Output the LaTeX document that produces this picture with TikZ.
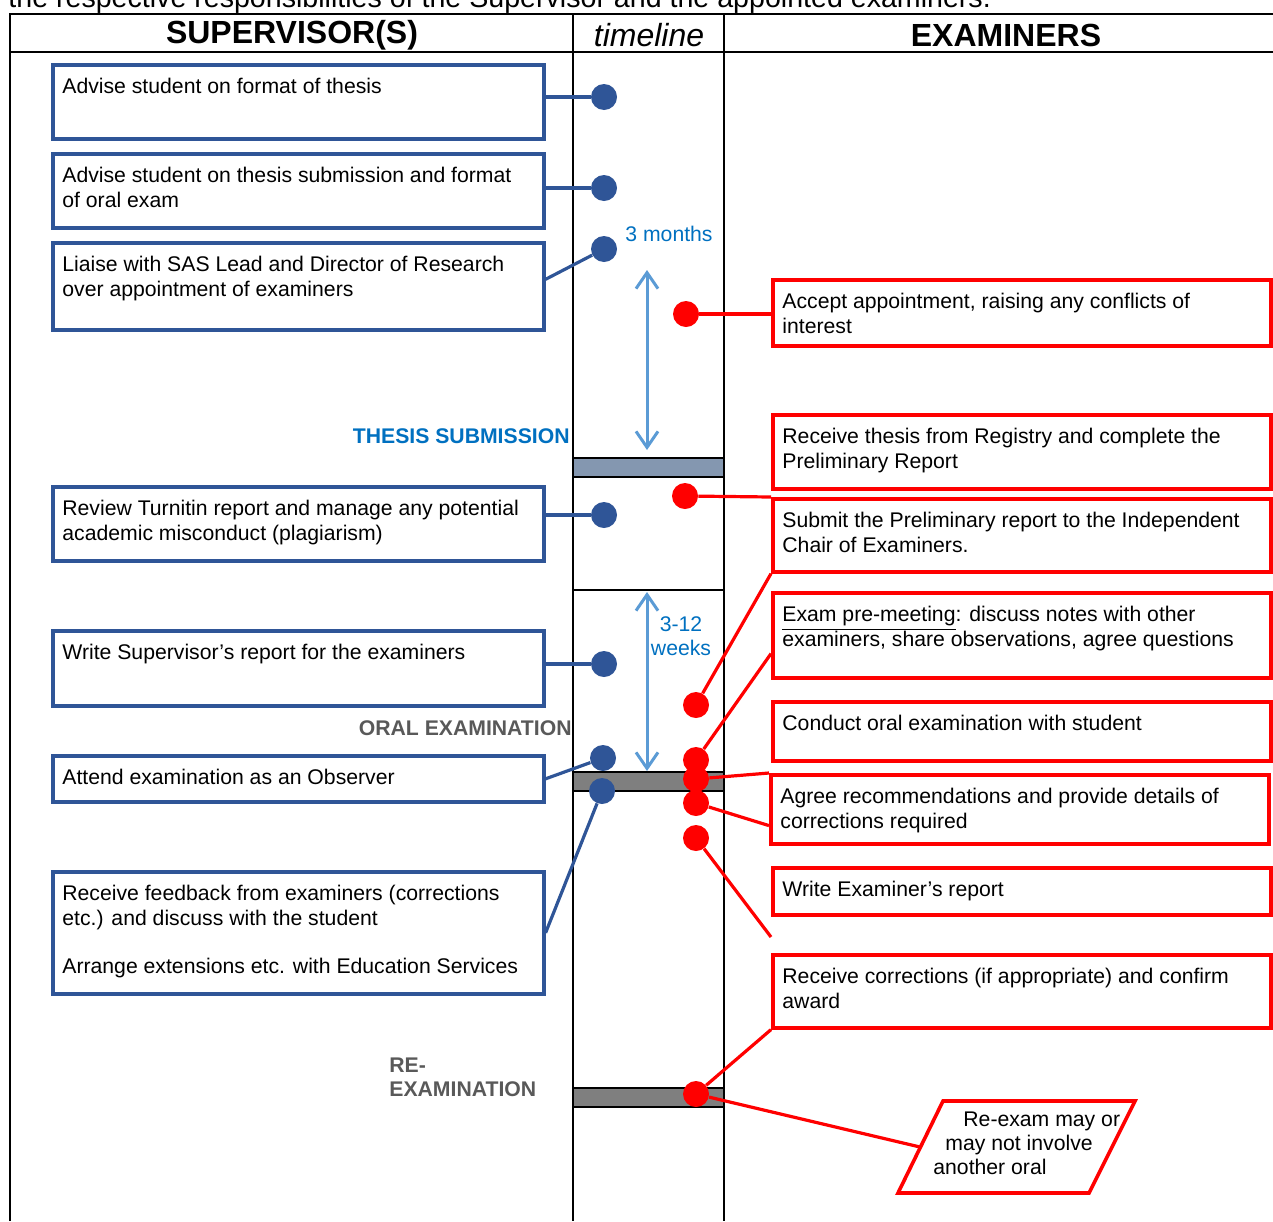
\documentclass[tikz,border=0pt]{standalone}
\usepackage{fontspec}
\setmainfont{Liberation Sans}
\usepackage{xcolor}
\usetikzlibrary{arrows.meta}

\definecolor{supblue}{HTML}{2F5597}
\definecolor{spanblue}{HTML}{5B9BD5}
\definecolor{labelblue}{HTML}{0070C0}
\definecolor{milegray}{HTML}{595959}
\definecolor{barblue}{HTML}{8497B0}
\definecolor{bargray}{HTML}{7F7F7F}
\definecolor{exred}{HTML}{FF0000}

\newcommand{\bodyfont}{\fontsize{10.6pt}{12.2pt}\selectfont}
\newcommand{\headfont}{\fontsize{16pt}{18pt}\selectfont}

\tikzset{
  tableline/.style={draw=black,line width=1pt},
  supbox/.style={draw=supblue,line width=1.8pt,anchor=north west,minimum width=245.5pt,inner sep=0pt},
  exbox/.style={draw=exred,line width=1.8pt,anchor=north west,minimum width=249pt,inner sep=0pt},
  boxtxt/.style={anchor=north west,align=left,inner sep=0pt,font=\bodyfont,xshift=5.5pt,yshift=-7.5pt},
  supdot/.style={circle,fill=supblue,minimum size=13pt,inner sep=0pt},
  exdot/.style={circle,fill=exred,minimum size=13pt,inner sep=0pt},
  supline/.style={draw=supblue,line width=1.6pt},
  exline/.style={draw=exred,line width=1.6pt},
  spanarrow/.style={draw=spanblue,line width=1.5pt,{Straight Barb[length=8pt,width=11pt]}-{Straight Barb[length=8pt,width=11pt]}},
  milestone/.style={font=\bodyfont\bfseries,inner sep=0pt},
}

\begin{document}
\begin{tikzpicture}[x=0.5pt,y=-0.5pt]
\useasboundingbox (0,0) rectangle (1273,1221);

\node[anchor=base west,inner sep=0pt,font=\fontsize{14.3pt}{16pt}\selectfont] (intro) at (8,7) {the respective responsibilities of the Supervisor and the appointed examiners.};

% table
\draw[tableline] (10,1221) -- (10,14) -- (1273,14);
\draw[tableline] (10,52) -- (1273,52);
\draw[tableline] (573,14) -- (573,1221);
\draw[tableline] (724,14) -- (724,1221);
\node[font=\headfont\bfseries] (hsup) at (292,35) {SUPERVISOR(S)};
\node[font=\headfont\itshape] (htime) at (649,35) {timeline};
\node[font=\headfont\bfseries] (hexam) at (1006,35) {EXAMINERS};

% timeline bars
\draw[tableline,fill=barblue] (573,458) rectangle (724,477);
\draw[tableline] (573,590) -- (724,590);
\draw[tableline,fill=bargray] (573,772) rectangle (724,791);
\draw[tableline,fill=bargray] (573,1088) rectangle (724,1107);

\node[milestone,text=labelblue,anchor=east] (thesis) at (570,436) {THESIS SUBMISSION};
\node[milestone,text=milegray,anchor=east] (oral) at (572,728) {ORAL EXAMINATION};
\node[milestone,text=milegray,anchor=west,align=left] (reexam) at (389,1077) {RE-\\EXAMINATION};

\coordinate (m1) at (647,270);
\coordinate (m2) at (647,450);
\draw[spanarrow] (m1) -- (m2);
\node[font=\bodyfont,text=labelblue] (months) at (669,234) {3 months};
\coordinate (w1) at (647,592);
\coordinate (w2) at (647,771);
\draw[spanarrow] (w1) -- (w2);
\node[font=\bodyfont,text=labelblue,align=center] (weeks) at (681,636) {3-12\\weeks};

% supervisor boxes
\node[supbox,minimum height=37pt] (s1) at (51,63) {};
\node[boxtxt] at (s1.north west) {Advise student on format of thesis};
\node[supbox,minimum height=37pt] (s2) at (51,152) {};
\node[boxtxt] at (s2.north west) {Advise student on thesis submission and format\\of oral exam};
\node[supbox,minimum height=43.5pt] (s3) at (51,241) {};
\node[boxtxt] at (s3.north west) {Liaise with SAS Lead and Director of Research\\over appointment of examiners};
\node[supbox,minimum height=37pt] (s4) at (51,485) {};
\node[boxtxt] at (s4.north west) {Review Turnitin report and manage any potential\\academic misconduct (plagiarism)};
\node[supbox,minimum height=37.5pt] (s5) at (51,629) {};
\node[boxtxt] at (s5.north west) {Write Supervisor’s report for the examiners};
\node[supbox,minimum height=23pt] (s6) at (51,754) {};
\node[boxtxt] at (s6.north west) {Attend examination as an Observer};
\node[supbox,minimum height=61pt] (s7) at (51,870) {};
\node[boxtxt] at (s7.north west) {Receive feedback from examiners (corrections\\etc.) and discuss with the student\\[12.2pt]Arrange extensions etc. with Education Services};

% examiner boxes
\node[exbox,minimum height=33pt] (e1) at (771,278) {};
\node[boxtxt] at (e1.north west) {Accept appointment, raising any conflicts of\\interest};
\node[exbox,minimum height=37pt] (e2) at (771,413) {};
\node[boxtxt] at (e2.north west) {Receive thesis from Registry and complete the\\Preliminary Report};
\node[exbox,minimum height=36.5pt] (e3) at (771,497) {};
\node[boxtxt] at (e3.north west) {Submit the Preliminary report to the Independent\\Chair of Examiners.};
\node[exbox,minimum height=42.5pt] (e4) at (771,591) {};
\node[boxtxt] at (e4.north west) {\underline{Exam pre-meeting}: discuss notes with other\\examiners, share observations, agree questions};
\node[exbox,minimum height=29.5pt] (e5) at (771,700) {};
\node[boxtxt] at (e5.north west) {Conduct oral examination with student};
\node[exbox,minimum height=34.5pt] (e6) at (769,773) {};
\node[boxtxt] at (e6.north west) {Agree recommendations and provide details of\\corrections required};
\node[exbox,minimum height=23.5pt] (e7) at (771,866) {};
\node[boxtxt] at (e7.north west) {Write Examiner’s report};
\node[exbox,minimum height=36.5pt] (e8) at (771,953) {};
\node[boxtxt] at (e8.north west) {Receive corrections (if appropriate) and confirm\\award};

\draw[exline,line width=1.8pt] (898,1193) -- (943,1101) -- (1135,1101) -- (1089,1193) -- cycle;
\coordinate (pe) at (920,1147);
\node[anchor=north west,align=left,inner sep=0pt,font=\bodyfont] (re) at (933,1111) {\hspace*{15pt}Re-exam may or\\\hspace*{6pt}may not involve\\another oral};
\coordinate (c7) at (771,937);

% dots on the timeline
\node[supdot] (d1) at (604,97) {};
\node[supdot] (d2) at (604,188) {};
\node[supdot] (d3) at (604,249) {};
\node[supdot] (d4) at (604,515) {};
\node[supdot] (d5) at (604,664) {};
\node[supdot] (d6) at (603,758) {};
\node[supdot] (d7) at (602,791) {};
\node[exdot] (r1) at (686,314) {};
\node[exdot] (r2) at (685,496) {};
\node[exdot] (r3) at (696,705) {};
\node[exdot] (r4) at (696,760) {};
\node[exdot] (r5) at (696,779) {};
\node[exdot] (r6) at (696,803) {};
\node[exdot] (r7) at (696,838) {};
\node[exdot] (r8) at (696,1094) {};

\draw[supline] (s1.east |- d1) -- (d1);
\draw[supline] (s2.east |- d2) -- (d2);
\draw[supline] ([yshift=3.5pt]s3.east) -- (d3);
\draw[supline] (s4.east |- d4) -- (d4);
\draw[supline] (s5.east |- d5) -- (d5);
\draw[supline] (s6.east) -- (d6);
\draw[supline] (s7.east) -- (d7);

\draw[exline] (r1) -- (e1.west |- r1);
\draw[exline] (r2) -- (e3.north west);
\draw[exline] (r3) -- (e3.south west);
\draw[exline] (r4) -- ([yshift=13pt]e4.south west);
\draw[exline] (r5) -- (e6.north west);
\draw[exline] (r6) -- ([yshift=10pt]e6.south west);
\draw[exline] (r7) -- (c7);
\draw[exline] (r8) -- (e8.south west);
\draw[exline] (r8) -- (pe);
\end{tikzpicture}
\end{document}
